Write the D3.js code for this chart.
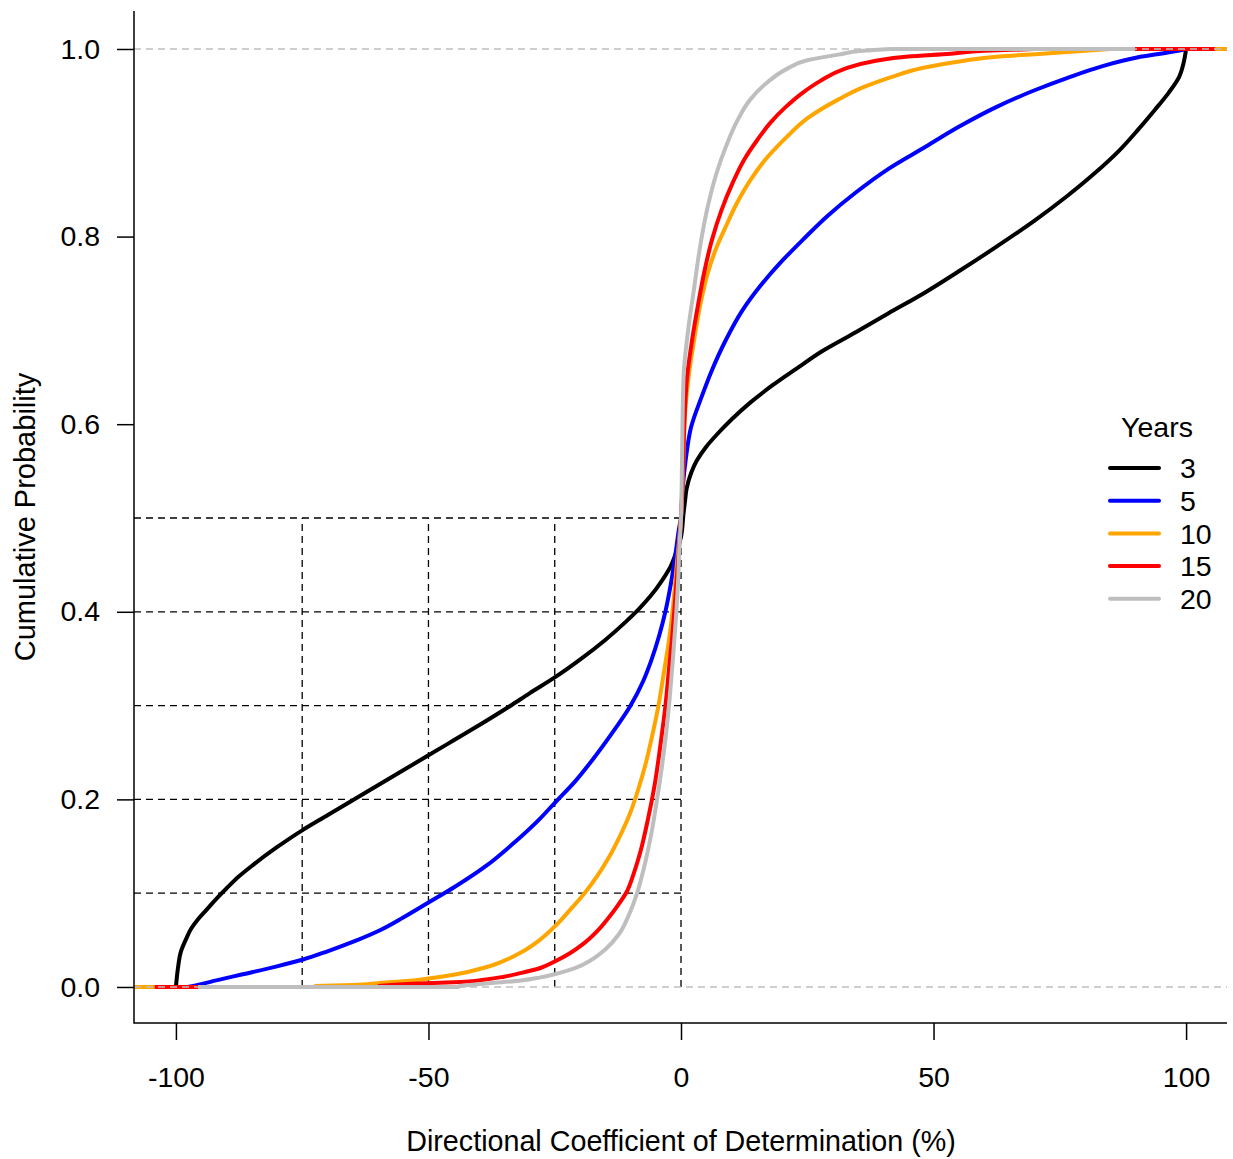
<!DOCTYPE html>
<html>
<head>
<meta charset="utf-8">
<script src="https://cdn.jsdelivr.net/npm/d3@7"></script>
<style>
  body { margin: 0; background: #fff; }
  svg { display: block; font-family: "Liberation Sans", Arial, sans-serif; }
</style>
</head>
<body>
<svg id="chart" width="1233" height="1159"></svg>
<script>
// cumulative probability curves: [R2 (%), P]
const years3 = [[-100,0],[-99.6,0.02],[-99,0.038],[-98,0.051],[-97,0.062],[-95.5,0.073],[-94,0.082],[-92,0.094],[-90,0.105],[-87.5,0.118],[-85,0.129],[-80,0.149],[-75,0.167],[-70,0.183],[-65,0.199],[-60,0.215],[-55,0.231],[-50,0.247],[-45,0.263],[-40,0.279],[-34,0.299],[-30,0.313],[-25,0.33],[-20,0.349],[-15,0.37],[-11,0.389],[-8.5,0.402],[-6,0.417],[-3.8,0.433],[-2,0.449],[-0.8,0.466],[0,0.48],[0.5,0.505],[0.8,0.518],[1.1,0.531],[2,0.548],[3.1,0.561],[5,0.576],[7.1,0.589],[10,0.605],[13.7,0.623],[18,0.641],[22.8,0.659],[28,0.678],[34.6,0.698],[41,0.718],[48.5,0.741],[55,0.763],[62.4,0.789],[70,0.817],[76.4,0.843],[82,0.868],[86.8,0.892],[90.5,0.914],[93.8,0.935],[96.5,0.953],[98.6,0.97],[99.5,0.985],[100,1]];
const years5 = [[-97.7,0],[-95,0.003],[-92,0.007],[-87.2,0.013],[-80,0.022],[-75,0.029],[-70,0.038],[-65,0.048],[-59.4,0.061],[-55,0.074],[-50,0.09],[-45,0.106],[-38.6,0.129],[-33,0.154],[-28,0.179],[-24.7,0.198],[-21,0.219],[-17.7,0.241],[-14,0.268],[-10.1,0.299],[-7.5,0.326],[-5.9,0.348],[-4.3,0.375],[-3.1,0.4],[-2,0.43],[-1,0.465],[-0.35,0.49],[0,0.5],[0.3,0.53],[1,0.565],[2,0.597],[4,0.628],[6,0.656],[8.9,0.69],[12,0.72],[15.8,0.748],[20,0.774],[24.2,0.797],[29,0.822],[34.6,0.847],[41,0.872],[48.5,0.896],[55,0.917],[62.4,0.938],[70,0.956],[76.4,0.969],[83,0.981],[90.3,0.991],[97.2,0.997],[100,1]];
const years10 = [[-72.6,0.001],[-65,0.002],[-60,0.004],[-55,0.006],[-50,0.009],[-45,0.013],[-38.6,0.021],[-35,0.028],[-31.6,0.037],[-28,0.05],[-24.7,0.066],[-22,0.082],[-19.1,0.1],[-16.5,0.119],[-14.3,0.138],[-12,0.162],[-10.1,0.185],[-8.5,0.21],[-7,0.238],[-5.7,0.268],[-4.5,0.299],[-3.4,0.335],[-2.4,0.369],[-1.6,0.405],[-1,0.44],[-0.4,0.475],[0,0.5],[0.4,0.55],[0.85,0.615],[1.6,0.655],[2.6,0.69],[3.8,0.727],[5.3,0.761],[7,0.788],[8.9,0.811],[11,0.835],[13.7,0.86],[17,0.884],[20.7,0.905],[25,0.926],[31.1,0.946],[36,0.959],[41.6,0.97],[48,0.98],[55.4,0.987],[63,0.992],[71.5,0.995],[85,1]];
const years15 = [[-60,0.001],[-53.2,0.0035],[-45,0.005],[-38.6,0.008],[-35,0.011],[-31.6,0.015],[-28,0.02],[-24.7,0.028],[-22,0.036],[-19.1,0.047],[-16.5,0.06],[-14.3,0.074],[-12.5,0.087],[-10.8,0.101],[-9.3,0.122],[-8,0.145],[-6.5,0.18],[-5.2,0.216],[-4.1,0.257],[-3.1,0.299],[-2.4,0.338],[-1.7,0.376],[-1.2,0.41],[-0.7,0.445],[-0.3,0.475],[0,0.5],[0.4,0.56],[1.2,0.65],[2.2,0.69],[3.3,0.725],[4.6,0.762],[6.1,0.796],[8,0.828],[10.2,0.857],[12.5,0.882],[15.1,0.903],[17.8,0.922],[20.7,0.938],[24,0.953],[27.6,0.966],[32,0.978],[38.1,0.987],[45,0.992],[53.4,0.995],[60,0.998],[70,1]];
const years20 = [[-44.1,0.001],[-38,0.004],[-31.6,0.007],[-28,0.01],[-24.7,0.014],[-21,0.02],[-17.7,0.029],[-15,0.04],[-12.2,0.057],[-10.3,0.077],[-8.7,0.1],[-7.2,0.13],[-5.9,0.163],[-4.8,0.198],[-3.8,0.234],[-3,0.268],[-2.4,0.299],[-1.6,0.35],[-1,0.394],[-0.6,0.43],[-0.35,0.465],[0,0.5],[0.2,0.56],[0.5,0.65],[1.4,0.7],[2.6,0.745],[3.8,0.79],[5.3,0.832],[7,0.867],[8.9,0.896],[11,0.922],[13.7,0.946],[17,0.964],[20.7,0.978],[25,0.988],[31.1,0.994],[36,0.998],[41.6,1]];

// where each step function's flat tails stop (left at P=0, right at P=1)
const tails = [[-104, 104], [-104, 104], [-110, 110], [-104.2, 105.7], [-95.6, 89.9]];

const seriesNames = ["3", "5", "10", "15", "20"];
const seriesData = [years3, years5, years10, years15, years20];
const seriesColors = ["#000000", "#0000ff", "#ffa500", "#ff0000", "#bebebe"];

const xTicks = [-100, -50, 0, 50, 100];
const yTicks = [0, 0.2, 0.4, 0.6, 0.8, 1.0];
const refX = [-75, -50, -25, 0];          // vertical dashed guides (up to P = 0.5)
const refY = [0.1, 0.2, 0.3, 0.4, 0.5];   // horizontal dashed guides (up to 0 %)

const svg = d3.select("#chart");
const pLeft = 134, pRight = 1227, pTop = 11, pBottom = 1023;

const x = d3.scaleLinear().domain([-108.3, 108.1]).range([pLeft, pRight]);
const y = d3.scaleLinear().domain([-0.0384, 1.0405]).range([pBottom, pTop]);

svg.append("clipPath").attr("id", "plotclip")
  .append("rect").attr("x", pLeft).attr("y", pTop)
  .attr("width", pRight - pLeft).attr("height", pBottom - pTop);

// black dashed guides
const guides = svg.append("g").attr("stroke", "#000").attr("stroke-width", 1.3)
  .attr("stroke-dasharray", "7,5").attr("fill", "none");
guides.selectAll("line.h").data(refY).join("line").attr("class", "h")
  .attr("x1", pLeft).attr("x2", x(0)).attr("y1", d => y(d)).attr("y2", d => y(d));
guides.selectAll("line.v").data(refX).join("line").attr("class", "v")
  .attr("x1", d => x(d)).attr("x2", d => x(d)).attr("y1", y(0)).attr("y2", y(0.5));

// curves: smooth body (x is monotone in P) plus straight flat tails
const body = d3.line().x(d => x(d[0])).y(d => y(d[1])).curve(d3.curveMonotoneY);
const flat = d3.line().x(d => x(d[0])).y(d => y(d[1]));
const curves = svg.append("g").attr("clip-path", "url(#plotclip)");
seriesData.forEach((s, i) => {
  const g = curves.append("g")
    .attr("fill", "none")
    .attr("stroke", seriesColors[i])
    .attr("stroke-width", 4)
    .attr("stroke-linejoin", "round");
  g.append("path").attr("d", flat([[tails[i][0], 0], [s[0][0], 0], s[0]]));
  g.append("path").attr("d", body(s));
  g.append("path").attr("d", flat([s[s.length - 1], [tails[i][1], 1]]));
});

// grey dashed lines at P = 0 and P = 1
svg.append("g").selectAll("line").data([0, 1]).join("line")
  .attr("x1", pLeft).attr("x2", pRight)
  .attr("y1", d => y(d)).attr("y2", d => y(d))
  .attr("stroke", "#bebebe").attr("stroke-width", 1.5)
  .attr("stroke-dasharray", "7,5");

// axes
const yAxis = svg.append("g").attr("transform", `translate(${pLeft},0)`)
  .call(d3.axisLeft(y).tickValues(yTicks).tickFormat(d3.format(".1f"))
    .tickSize(17).tickPadding(17));
const xAxis = svg.append("g").attr("transform", `translate(0,${pBottom})`)
  .call(d3.axisBottom(x).tickValues(xTicks).tickFormat(d => String(d))
    .tickSize(17).tickPadding(27));
[yAxis, xAxis].forEach(a => {
  a.select(".domain").remove();
  a.selectAll(".tick line").attr("stroke", "#000").attr("stroke-width", 1.5);
  a.selectAll(".tick text").attr("font-size", 28.5).attr("fill", "#000")
    .attr("font-family", "'Liberation Sans', Arial, sans-serif");
});

svg.append("path")
  .attr("d", `M${pLeft},${pTop}V${pBottom}H${pRight}`)
  .attr("fill", "none").attr("stroke", "#000").attr("stroke-width", 1.5);

// axis titles
svg.append("text")
  .attr("transform", `translate(35,${(pTop + pBottom) / 2}) rotate(-90)`)
  .attr("text-anchor", "middle").attr("font-size", 29)
  .text("Cumulative Probability");
svg.append("text")
  .attr("x", x(0)).attr("y", 1151)
  .attr("text-anchor", "middle").attr("font-size", 28.7)
  .text("Directional Coefficient of Determination (%)");

// legend
const legend = svg.append("g");
legend.append("text").attr("x", 1157).attr("y", 437)
  .attr("text-anchor", "middle").attr("font-size", 28.5).text("Years");
const rows = legend.selectAll("g.row").data(seriesNames).join("g")
  .attr("class", "row")
  .attr("transform", (d, i) => `translate(0,${468 + i * 32.7})`);
rows.append("line").attr("x1", 1110).attr("x2", 1159)
  .attr("stroke", (d, i) => seriesColors[i]).attr("stroke-width", 4)
  .attr("stroke-linecap", "round");
rows.append("text").attr("x", 1180).attr("dy", "0.36em")
  .attr("font-size", 28.5).text(d => d);
</script>
</body>
</html>
